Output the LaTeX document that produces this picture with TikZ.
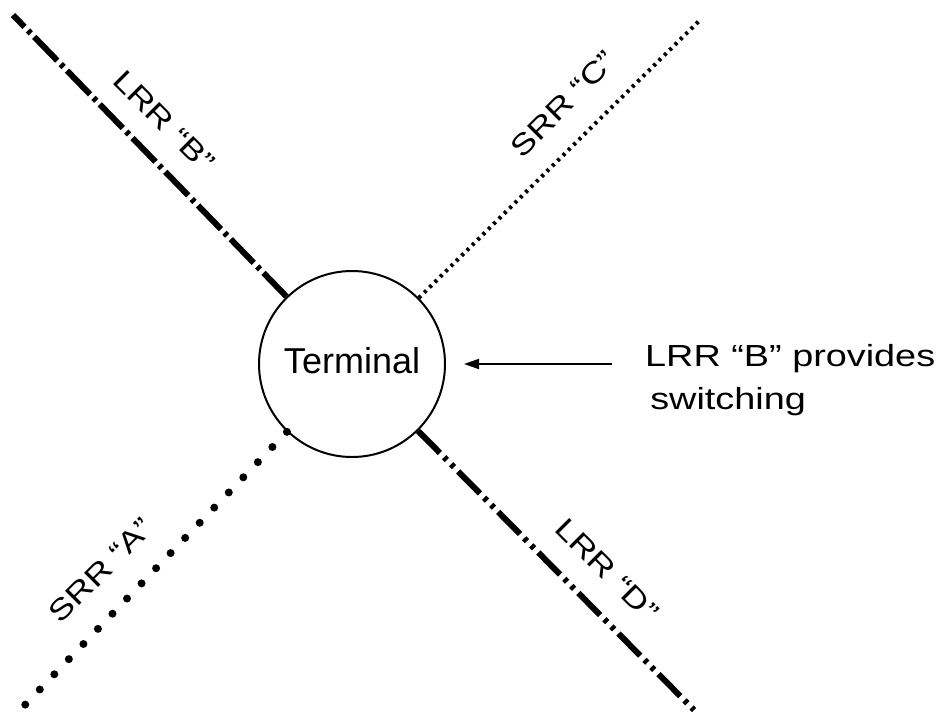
\documentclass[tikz,border=0pt]{standalone}
\usepackage{fontspec}
\setmainfont{Liberation Sans}
\newfontfamily\widesans[FakeStretch=1.24]{Liberation Sans}
\usetikzlibrary{arrows.meta}
\begin{document}
\begin{tikzpicture}[x=1pt,y=-1pt,
  lbl/.style={font=\widesans\fontsize{29}{35}\selectfont, inner sep=0pt},
  notetext/.style={font=\widesans\fontsize{30.5}{43}\selectfont, inner sep=0pt, align=left},
  termnode/.style={draw, circle, line width=2pt, minimum size=186pt, inner sep=0pt, text depth=8pt, font=\fontsize{36}{40}\selectfont},
  lrrB/.style={line width=6pt, dash pattern=on 33pt off 5pt on 4pt off 5pt},
  lrrD/.style={line width=6pt, dash pattern=on 31pt off 6pt on 4pt off 6pt on 4pt off 6pt},
  srrC/.style={line width=4pt, dash pattern=on 3pt off 4.5pt},
  srrA/.style={line width=8pt, line cap=round, dash pattern=on 0pt off 21pt},
  pointer/.style={line width=2pt, -{Triangle[length=15pt,width=10pt]}, shorten >=18pt}]
\useasboundingbox (0,0) rectangle (941,713);
\node[termnode] (term) at (352,364) {Terminal};
\coordinate (tl) at (13,15);
\coordinate (tr) at (700,20);
\coordinate (bl) at (22,708);
\coordinate (br) at (694,710);
\draw[lrrB] (term) -- (tl);
\draw[srrC] (term) -- (tr);
\draw[srrA] (term) -- (bl);
\draw[lrrD] (term) -- (br);
\node[lbl, rotate=-45] (labB) at (164,121) {LRR “B”};
\node[lbl, rotate=45] (labC) at (563,104) {SRR “C”};
\node[lbl, rotate=45] (labA) at (101,570) {SRR “A”};
\node[lbl, rotate=-45] (labD) at (607,570) {LRR “D”};
\node[notetext, anchor=north west] (note) at (645,344) {LRR “B” provides\\\,switching};
\coordinate (arrtail) at (612,364);
\draw[pointer] (arrtail) -- (term);
\end{tikzpicture}
\end{document}
